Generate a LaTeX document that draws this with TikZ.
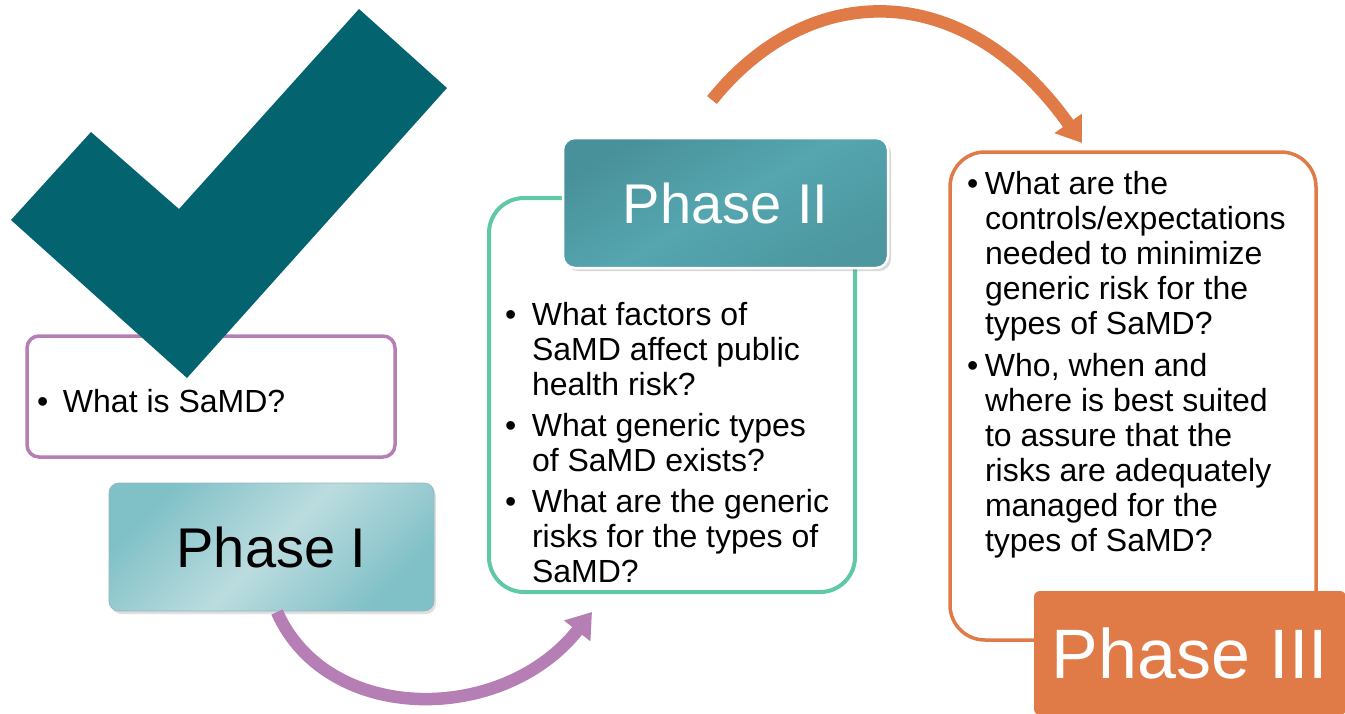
\documentclass[tikz,border=0pt]{standalone}
\usepackage{fontspec}
\setmainfont{Liberation Sans}
\usetikzlibrary{arrows.meta,shadows}
\definecolor{chk}{HTML}{03646F}
\definecolor{purp}{HTML}{B57EB5}
\definecolor{mint}{HTML}{60C8A4}
\definecolor{orng}{HTML}{E07A46}
\definecolor{tealA}{HTML}{80C0C7}
\definecolor{tealB}{HTML}{BBDCDF}
\definecolor{tealC}{HTML}{49919A}
\definecolor{tealD}{HTML}{55A6AF}
\begin{document}
\begin{tikzpicture}[x=1pt,y=-1pt,
  qbox/.style={draw, rounded corners=#1, outer sep=0pt, inner sep=0pt},
  qbox/.default=12pt,
  body/.style={anchor=base west, inner sep=0pt, outer sep=0pt, font=\fontsize{32}{35}\selectfont},
  arc/.style={line width=12.5pt, -{Triangle[width=32pt,length=24pt]}},
  phase/.style={inner sep=0pt, outer sep=0pt}
]
\useasboundingbox (0,0) rectangle (1345,713);
\fill[white] (0,0) rectangle (1345,713);

% content frames
\node[qbox=12pt, draw=purp, line width=3.5pt, minimum width=368pt, minimum height=121pt] (f1) at (211,396.5) {};
\node[qbox=35pt, draw=mint, line width=4pt, minimum width=366pt, minimum height=394pt] (f2) at (672,395) {};
\node[qbox=35pt, draw=orng, line width=3.5pt, minimum width=366pt, minimum height=488pt] (f3) at (1133,396) {};

% checkmark
\path[fill=chk]
  (359,9) -- (447,88) -- (187,378) -- (11,220) -- (91,132) -- (179,209) -- cycle;

% phase boxes
\node[phase, qbox=10pt, draw=tealA!80!black!70, line width=0.8pt,
  top color=tealA, bottom color=tealA, middle color=tealB, shading angle=45,
  drop shadow={shadow xshift=2pt, shadow yshift=-3pt, opacity=0.25},
  minimum width=325pt, minimum height=128pt,
  font=\fontsize{56}{60}\selectfont] (p1) at (271.5,547) {Phase I};
\node[phase, qbox=12pt, draw=white, line width=2.5pt,
  top color=tealC, bottom color=tealC!70!tealD, middle color=tealD, shading angle=30,
  drop shadow={shadow xshift=3pt, shadow yshift=-3pt, opacity=0.3},
  minimum width=325pt, minimum height=130pt, text=white,
  font=\fontsize{56}{60}\selectfont] (p2) at (725.5,203) {Phase II};
\node[phase, rounded corners=6pt, fill=orng,
  minimum width=312pt, minimum height=124pt, text=white,
  font=\fontsize{70}{74}\selectfont] (p3) at (1190,653) {Phase III};

% texts
\node[body] (t1) at (37,412) {\begin{tabular}[t]{@{}p{26pt}@{}l@{}}
• & What is SaMD?
\end{tabular}};
\node[body] (t2) at (505,325) {\begin{tabular}[t]{@{}p{27pt}@{}l@{}}
• & What factors of\\
 & SaMD affect public\\
 & health risk?\\[6pt]
• & What generic types\\
 & of SaMD exists?\\[6pt]
• & What are the generic\\
 & risks for the types of\\
 & SaMD?
\end{tabular}};
\node[body] (t3) at (967,194) {\begin{tabular}[t]{@{}p{18pt}@{}l@{}}
• & What are the\\
 & controls/expectations\\
 & needed to minimize\\
 & generic risk for the\\
 & types of SaMD?\\[7pt]
• & Who, when and\\
 & where is best suited\\
 & to assure that the\\
 & risks are adequately\\
 & managed for the\\
 & types of SaMD?
\end{tabular}};

% arrows
\coordinate (a1s) at (277,612);
\coordinate (a1e) at (592,612);
\coordinate (a2s) at (712,100);
\coordinate (a2e) at (1082,143);
\draw[arc, draw=purp] (a1s) .. controls (327,725) and (503,725) .. (a1e);
\draw[arc, draw=orng] (a2s) .. controls (810,-22) and (965,-22) .. (a2e);
\end{tikzpicture}
\end{document}
